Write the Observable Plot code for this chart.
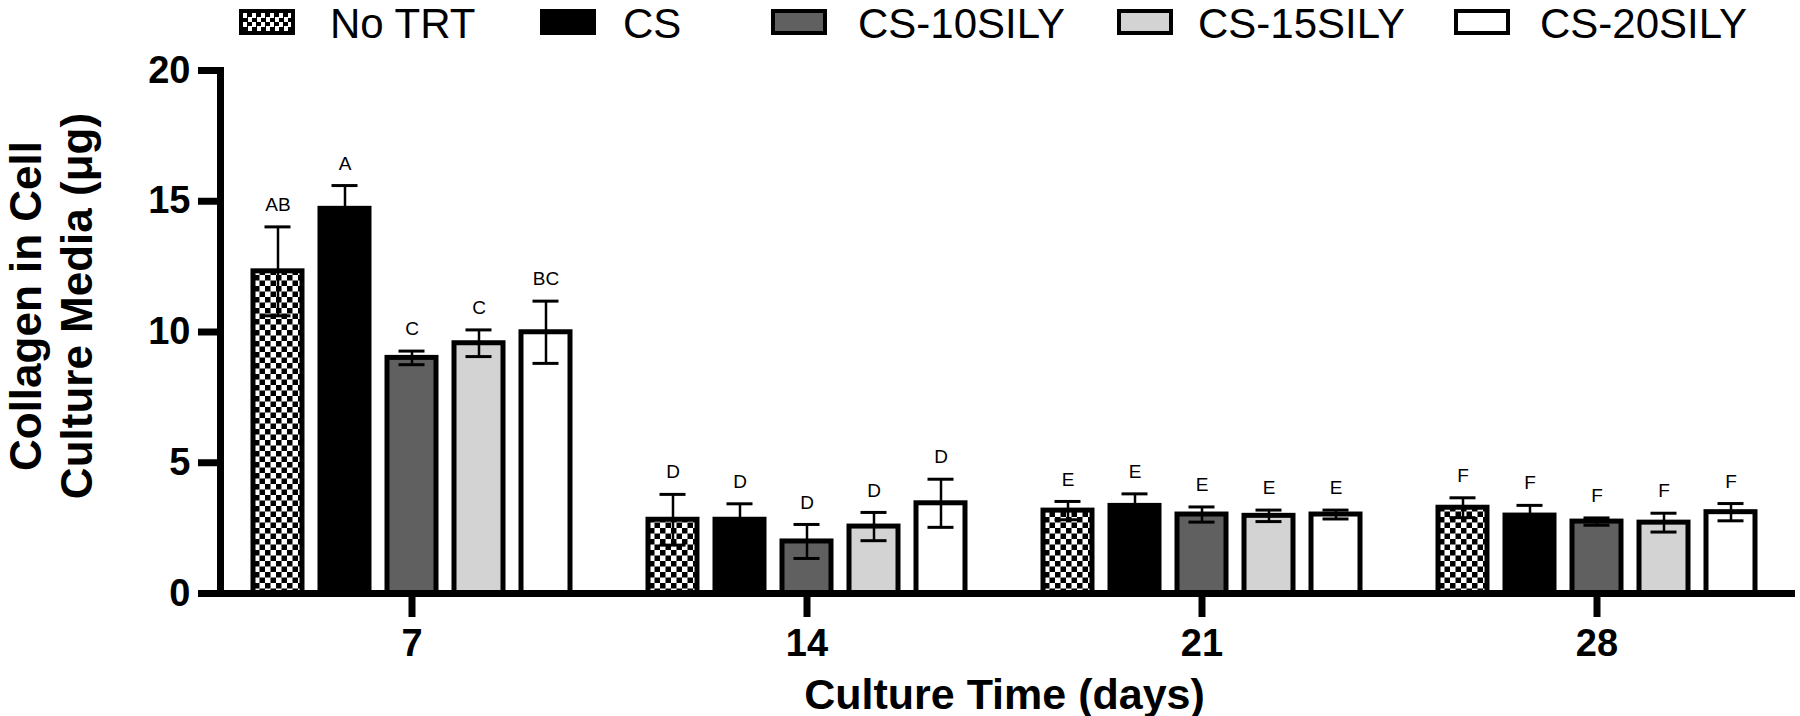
<!DOCTYPE html>
<html>
<head>
<meta charset="utf-8">
<script src="https://cdn.jsdelivr.net/npm/d3@7"></script>
<script src="https://cdn.jsdelivr.net/npm/@observablehq/plot@0.6"></script>
<style>
  body { margin: 0; background: #fff; font-family: "Liberation Sans", Arial, sans-serif; }
  #wrap { width: 1800px; }
  #legend { position: relative; width: 1800px; height: 44px; }
  .sw { position: absolute; top: 9px; width: 56px; height: 26px; box-sizing: border-box; border: 4px solid #000; }
  .lt { position: absolute; top: 0px; font-size: 42px; line-height: 47px; color: #000; white-space: nowrap; }
  g[aria-label="fx-axis label"] text { font-size: 43px; }
</style>
</head>
<body>
<div id="wrap">
  <div id="legend"></div>
  <div id="chart"></div>
</div>
<script>
// ---- data ----
const days = ["7", "14", "21", "28"];
const groups = ["No TRT", "CS", "CS-10SILY", "CS-15SILY", "CS-20SILY"];
const mean7  = [12.32, 14.71, 9.01, 9.57, 9.99];
const sd7    = [1.70, 0.89, 0.26, 0.51, 1.19];
const mean14 = [2.82, 2.82, 1.99, 2.56, 3.45];
const sd14   = [0.97, 0.61, 0.65, 0.54, 0.92];
const mean21 = [3.17, 3.35, 3.02, 2.97, 3.02];
const sd21   = [0.35, 0.46, 0.29, 0.22, 0.17];
const mean28 = [3.28, 2.98, 2.75, 2.71, 3.11];
const sd28   = [0.38, 0.39, 0.14, 0.36, 0.33];
const letters7  = ["AB", "A", "C", "C", "BC"];
const letters14 = ["D", "D", "D", "D", "D"];
const letters21 = ["E", "E", "E", "E", "E"];
const letters28 = ["F", "F", "F", "F", "F"];
const yTicks = [0, 5, 10, 15, 20];

// styles (not data)
const groupFills = ["url(#checker)", "#000000", "#606060", "#d3d3d3", "#ffffff"];

const means = [mean7, mean14, mean21, mean28];
const sds = [sd7, sd14, sd21, sd28];
const lets = [letters7, letters14, letters21, letters28];
const rows = [];
days.forEach((day, i) => groups.forEach((g, j) => rows.push({
  day, group: g, mean: means[i][j], sd: sds[i][j], letter: lets[i][j]
})));

// ---- legend ----
const swLeft = [239, 540, 771, 1117, 1454];
const txLeft = [330, 623, 858, 1198, 1540];
const legend = d3.select("#legend");
groups.forEach((g, i) => {
  const sw = legend.append("div").attr("class", "sw").style("left", swLeft[i] + "px");
  if (i === 0) sw.style("background", "repeating-conic-gradient(#000 0 25%, #fff 0 50%) 0 0 / 9px 9px");
  else sw.style("background", groupFills[i]);
  legend.append("div").attr("class", "lt").style("left", txLeft[i] + "px").text(g);
});

// ---- chart ----
const font = "'Liberation Sans', Arial, sans-serif";
const chart = Plot.plot({
  width: 1800,
  height: 672,
  marginTop: 26,
  marginBottom: 123,
  marginLeft: 219,
  marginRight: 10,
  style: { fontFamily: font, background: "#fff", color: "#000" },
  fx: { domain: days, paddingInner: 0.03, paddingOuter: 0 },
  x: { domain: groups, paddingInner: 0.2647, paddingOuter: 0.456, axis: null },
  y: { domain: [0, 20] },
  color: { domain: groups, range: groupFills },
  marks: [
    Plot.barY(rows, { fx: "day", x: "group", y: "mean", fill: "group", stroke: "#000", strokeWidth: 5 }),
    Plot.ruleX(rows, { fx: "day", x: "group", y1: d => d.mean - d.sd, y2: d => d.mean + d.sd, stroke: "#000", strokeWidth: 2.5 }),
    Plot.tickY(rows, { fx: "day", x: "group", y: d => d.mean + d.sd, stroke: "#000", strokeWidth: 3, insetLeft: 11.5, insetRight: 11.5 }),
    Plot.tickY(rows, { fx: "day", x: "group", y: d => d.mean - d.sd, stroke: "#000", strokeWidth: 3, insetLeft: 11.5, insetRight: 11.5 }),
    Plot.text(rows, { fx: "day", x: "group", y: d => d.mean + d.sd, text: "letter", dy: -22, fontSize: 19, fill: "#000" }),
    Plot.ruleY([0], { stroke: "#000", strokeWidth: 7, insetLeft: -7, insetRight: -7 }),
    Plot.frame({ anchor: "left", facetAnchor: "left", stroke: "#000", strokeWidth: 7, strokeLinecap: "square" }),
    Plot.axisY({ ticks: yTicks, tickSize: 22, tickPadding: 8, stroke: "#000", strokeWidth: 7, fontSize: 38, fontWeight: "bold", label: null }),
    Plot.axisFx({ anchor: "bottom", tickSize: 24, tickPadding: 12, stroke: "#000", strokeWidth: 7, fontSize: 38, fontWeight: "bold",
                  label: "Culture Time (days)", labelAnchor: "center", labelArrow: "none", labelOffset: 115 }),
    Plot.text([{ day: "7" }], { fx: "day", frameAnchor: "left", text: () => "Collagen in Cell\nCulture Media (μg)",
                rotate: -90, dx: -170, dy: -26, fontSize: 44, fontWeight: "bold", lineHeight: 1.16, textAnchor: "middle", fill: "#000" })
  ]
});

d3.select(chart).insert("defs", ":first-child").html(
  '<pattern id="checker" patternUnits="userSpaceOnUse" width="11" height="11">' +
  '<rect width="11" height="11" fill="#fff"/>' +
  '<rect width="5.5" height="5.5" fill="#000"/>' +
  '<rect x="5.5" y="5.5" width="5.5" height="5.5" fill="#000"/>' +
  '</pattern>'
);
document.getElementById("chart").appendChild(chart);
</script>
</body>
</html>
